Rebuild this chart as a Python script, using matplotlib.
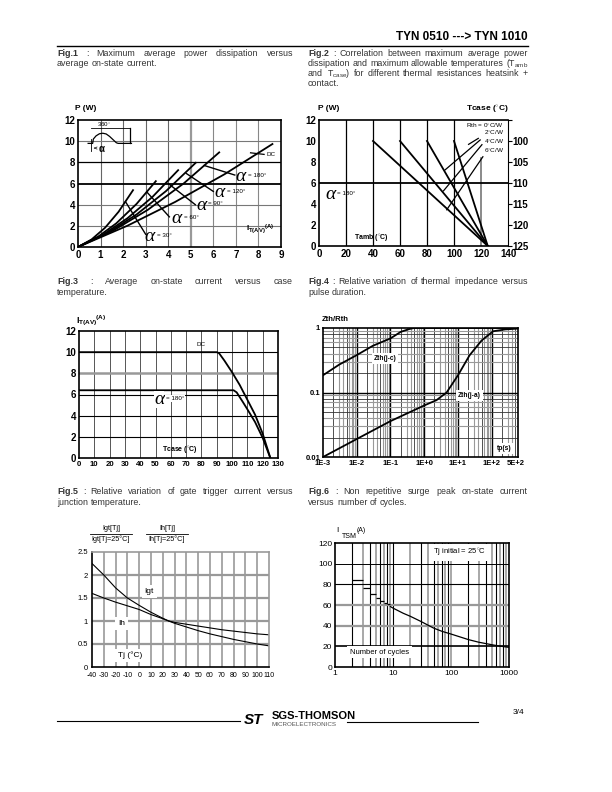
import numpy as np
import matplotlib
matplotlib.use("Agg")
import matplotlib.pyplot as plt
from matplotlib.lines import Line2D

plt.rcParams['font.family'] = ['Liberation Sans', 'DejaVu Sans']
plt.rcParams['mathtext.fontset'] = 'custom'
plt.rcParams['mathtext.rm'] = 'Liberation Sans'
plt.rcParams['mathtext.it'] = 'Liberation Sans:italic'
plt.rcParams['mathtext.bf'] = 'Liberation Sans:bold'
plt.rcParams['axes.unicode_minus'] = False

# ---------------- data ----------------
# Fig.1 : P (W) versus IT(AV) (A) for several conduction angles
f1_names = ["30", "60", "90", "120", "180", "DC"]
f1_i = [[0, 0.6, 1.2, 1.8, 2.44],
        [0, 0.9, 1.7, 2.6, 3.45],
        [0, 1.1, 2.2, 3.3, 4.44],
        [0, 1.3, 2.6, 3.9, 5.22],
        [0, 1.6, 3.1, 4.7, 6.26],
        [0, 2.2, 4.3, 6.5, 8.62]]
f1_p = [[0, 0.71, 1.82, 3.33, 5.37],
        [0, 0.99, 2.24, 4.08, 6.22],
        [0, 1.15, 2.73, 4.73, 7.26],
        [0, 1.32, 3.08, 5.28, 7.96],
        [0, 1.60, 3.52, 6.03, 8.94],
        [0, 2.02, 4.25, 6.88, 9.73]]
# alpha labels (label position, leader start on curve, leader end)
f1_lab_xy = [(3.25, 0.95), (4.45, 2.7), (5.55, 3.95), (6.36, 5.15), (7.3, 6.65)]
f1_lead = [[(2.1, 4.3), (3.0, 1.2)],
           [(3.05, 5.2), (4.05, 2.85)],
           [(4.0, 6.0), (5.2, 4.0)],
           [(4.8, 6.95), (6.0, 5.25)],
           [(5.6, 7.7), (6.95, 6.8)]]
wave_x = [0.45, 0.65, 0.68, 0.8, 0.95, 1.1, 1.25, 1.4, 1.55, 1.7, 1.78, 2.37]
wave_y = [9.79, 9.79, 10.2, 10.5, 10.7, 10.75, 10.68, 10.45, 10.15, 9.85, 9.79, 9.79]

# Fig.2 : P versus Tamb for Rth = 0, 2, 4, 6 C/W (alpha = 180)
f2_tamb0 = [40, 60, 80, 100]
f2_p0 = [10, 10, 10, 10]
f2_tend = 125
f2_rth = ["Rth = 0$^{\\circ}$C/W", "2$^{\\circ}$C/W", "4$^{\\circ}$C/W", "6$^{\\circ}$C/W"]
f2_rth_y = [11.45, 10.8, 9.95, 9.05]
f2_lead = [[(110.8, 9.68), (118.0, 10.25)],
           [(93.4, 7.25), (119.4, 10.1)],
           [(92.2, 5.25), (120.7, 9.65)],
           [(94.6, 3.45), (121.4, 8.5)]]
f2_tcase = [100, 105, 110, 115, 120, 125]

# Fig.3 : IT(AV) versus Tcase
f3_t_dc = [0, 90, 91.5, 95, 100, 105, 110, 115, 120, 125]
f3_i_dc = [10, 10, 9.9, 9.2, 8.1, 6.9, 5.5, 4.1, 2.3, 0]
f3_t_180 = [0, 101, 103, 107, 110, 115, 120, 125]
f3_i_180 = [6.4, 6.4, 6.2, 5.3, 4.6, 3.4, 1.9, 0]

# Fig.4 : Zth/Rth versus tp (s)
f4_tp_jc = [1e-3, 3e-3, 1e-2, 3e-2, 1e-1, 2e-1, 0.35, 0.5, 6e2]
f4_z_jc = [0.185, 0.27, 0.38, 0.53, 0.69, 0.87, 0.96, 1.0, 1.0]
f4_tp_ja = [1e-3, 1e-2, 1e-1, 1, 2.3, 4.6, 10, 22, 50, 110, 250, 600]
f4_z_ja = [0.010, 0.019, 0.036, 0.063, 0.076, 0.10, 0.185, 0.377, 0.64, 0.89, 0.95, 0.98]
f4_xticks = [1e-3, 1e-2, 1e-1, 1, 10, 100, 500]
f4_xlabels = ["1E-3", "1E-2", "1E-1", "1E+0", "1E+1", "1E+2", "5E+2"]

# Fig.5 : relative Igt and Ih versus Tj
f5_tj = [-40, -30, -20, -10, 0, 10, 20, 25, 30, 40, 50, 60, 70, 80, 90, 100, 110]
f5_igt = [2.25, 2.0, 1.72, 1.5, 1.34, 1.19, 1.06, 1.0, 0.95, 0.87, 0.79, 0.72, 0.66, 0.6, 0.55, 0.5, 0.46]
f5_ih = [1.6, 1.5, 1.41, 1.33, 1.25, 1.14, 1.05, 1.0, 0.97, 0.93, 0.89, 0.85, 0.81, 0.78, 0.75, 0.72, 0.70]

# Fig.6 : ITSM versus number of cycles
f6_step_n = [2, 3, 4, 5, 6, 7, 8, 9]
f6_step_i = [84, 76.5, 70.5, 66.8, 64, 62.3, 60.8]
f6_n = [9, 10, 15, 20, 30, 50, 70, 100, 200, 300, 500, 700, 1000]
f6_i = [58.5, 57, 52, 49, 44.2, 37.7, 34.5, 31.9, 26.5, 24, 21.6, 20.2, 19]

# ---------------- page ----------------
W, H = 612, 792
fig = plt.figure(figsize=(6.12, 7.92), dpi=100)
rend = fig.canvas.get_renderer()


def box(x0, y0, x1, y1):
    return fig.add_axes([x0 / W, 1 - y1 / H, (x1 - x0) / W, (y1 - y0) / H])


def ftext(x, y, s, **kw):
    return fig.text(x / W, 1 - y / H, s, **kw)


def hline_px(x0, x1, y, lw=1.0):
    fig.add_artist(Line2D([x0 / W, x1 / W], [1 - y / H, 1 - y / H], lw=lw, color='k'))


def caption(x0, x1, y, lines, size=6.4, dy=10.3):
    for k, line in enumerate(lines):
        words = line.split()
        ts = []
        for j, w in enumerate(words):
            wt = 'bold' if (j == 0 and w.startswith('Fig.')) else 'normal'
            ts.append(ftext(0, 0, w, fontsize=size, fontweight=wt, va='center', color='#333'))
        yy = y + k * dy
        widths = [t.get_window_extent(rend).width for t in ts]
        if k < len(lines) - 1 and len(ts) > 1:
            gap = (x1 - x0 - sum(widths)) / (len(ts) - 1)
        else:
            gap = size * 0.38
        xx = x0
        for t, w in zip(ts, widths):
            t.set_position((xx / W, 1 - yy / H))
            xx += w + gap


def style(ax, size=7, bold=True):
    ax.tick_params(length=0, labelsize=size, pad=2)
    for lb in ax.get_xticklabels() + ax.get_yticklabels():
        lb.set_fontweight('bold' if bold else 'normal')
    for s in ax.spines.values():
        s.set_linewidth(1.2)


def alpha_label(ax, x, y, deg, size=14):
    ax.text(x, y, 'α', fontsize=size, family='Liberation Serif', style='italic', va='center', ha='left')
    ax.annotate(deg + '°', (x, y), xytext=(size * 0.62, 1), textcoords='offset points',
                fontsize=4.5, va='center', ha='left')


# header
ftext(528, 37, "TYN 0510 ---> TYN 1010", fontsize=8.5, fontweight='bold', ha='right', va='center')
hline_px(57, 528, 46, lw=1.0)

caption(57, 293, 53, ["Fig.1 : Maximum average power dissipation versus", "average on-state current."])
caption(308, 528, 53, ["Fig.2 : Correlation between maximum average power",
                       "dissipation and maximum allowable temperatures (T$_{\\mathregular{amb}}$",
                       "and T$_{\\mathregular{case}}$)  for different thermal resistances heatsink +",
                       "contact."])
caption(57, 293, 282, ["Fig.3 : Average on-state current versus case", "temperature."])
caption(308, 528, 282, ["Fig.4 : Relative variation of thermal impedance versus", "pulse duration."])
caption(57, 293, 492, ["Fig.5 : Relative variation of gate trigger current versus", "junction temperature."])
caption(308, 528, 492, ["Fig.6 : Non repetitive surge peak on-state current", "versus number of cycles."])

# ---------------- Fig.1 ----------------
ax = box(78, 120, 281, 247)
ax.set_xlim(0, 9)
ax.set_ylim(0, 12)
for v, c, lw in [(1, '#666', 0.8), (2, '#666', 0.8), (3, '#666', 0.8), (4, '#666', 0.8),
                 (5, '#999', 1.6), (6, '#888', 0.8), (7, '#888', 0.8), (8, '#888', 0.8)]:
    ax.axvline(v, color=c, lw=lw, zorder=0)
for v, c, lw in [(2, '#777', 0.8), (4, '#777', 0.8), (6, 'k', 1.3), (8, 'k', 0.9), (10, '#777', 0.8)]:
    ax.axhline(v, color=c, lw=lw, zorder=0)
for xs, ys in zip(f1_i, f1_p):
    ax.plot(xs, ys, color='k', lw=1.3)
for (lx, ly), lead, name in zip(f1_lab_xy, f1_lead, f1_names[:5]):
    ax.plot([lead[0][0], lead[1][0]], [lead[0][1], lead[1][1]], color='k', lw=1.0)
    alpha_label(ax, lx - 0.3, ly, "= " + name)
ax.plot([7.65, 8.25], [8.9, 8.75], color='k', lw=0.9)
ax.text(8.35, 8.75, "DC", fontsize=4.5, va='center')
ax.plot(wave_x, wave_y, color='k', lw=0.9)
ax.plot([0.59, 2.29], [11.2, 11.2], color='k', lw=0.6)
ax.plot([2.29, 2.29], [9.79, 11.2], color='k', lw=0.9)
ax.plot([0.59, 0.59], [9.05, 10.2], color='k', lw=0.6)
ax.text(1.15, 11.55, "360$^{\\circ}$", fontsize=4.5, ha='center', va='center')
ax.annotate("", xy=(0.59, 9.35), xytext=(0.85, 9.35),
            arrowprops=dict(arrowstyle='->', lw=0.5, mutation_scale=4))
ax.text(0.9, 9.3, "α", fontsize=7, fontweight='bold', va='center')
ax.text(7.45, 1.7, "I$_{\\mathbf{T(AV)}}$$^{\\mathbf{(A)}}$", fontsize=6, fontweight='bold', va='center')
ax.set_xticks(range(10))
ax.set_yticks(range(0, 13, 2))
style(ax)
ftext(75, 109, "P (W)", fontsize=6, fontweight='bold', va='center')

# ---------------- Fig.2 ----------------
ax = box(319, 120, 508, 246)
ax.set_xlim(0, 140)
ax.set_ylim(0, 12)
for v in [20, 40, 60, 80, 100]:
    ax.axvline(v, color='k', lw=0.9, zorder=0)
ax.plot([120, 120], [0, 8.4], color='#777', lw=1.2, zorder=0)
ax.axhline(6, color='k', lw=1.3, zorder=0)
for t0, p0 in zip(f2_tamb0, f2_p0):
    ax.plot([t0, f2_tend], [p0, 0], color='k', lw=1.3)
for lab, y in zip(f2_rth, f2_rth_y):
    ax.text(137, y, lab, fontsize=4.6, ha='right', va='center')
for lead in f2_lead:
    ax.plot([lead[0][0], lead[1][0]], [lead[0][1], lead[1][1]], color='k', lw=0.9)
alpha_label(ax, 4.5, 4.86, "= 180")
ax.text(39, 0.73, "Tamb ($^{\\circ}$C)", fontsize=5, fontweight='bold', ha='center', va='center')
ax.set_xticks(range(0, 141, 20))
ax.set_yticks(range(0, 13, 2))
style(ax)
ax2 = ax.twinx()
ax2.set_ylim(125, 95)
ax2.set_yticks(f2_tcase + [95])
ax2.set_yticklabels([str(v) for v in f2_tcase] + [""])
ax2.tick_params(axis='y', length=3, width=0.8, direction='out', labelsize=7, pad=0.5)
for lb in ax2.get_yticklabels():
    lb.set_fontweight('bold')
for s in ax2.spines.values():
    s.set_visible(False)
ax.spines['right'].set_linewidth(0.8)
ftext(318, 109, "P (W)", fontsize=6, fontweight='bold', va='center')
ftext(509, 109, "Tcase ($^{\\circ}$C)", fontsize=6, fontweight='bold', va='center', ha='right')

# ---------------- Fig.3 ----------------
ax = box(79, 331, 278, 458)
ax.set_xlim(0, 130)
ax.set_ylim(0, 12)
for v in range(10, 130, 10):
    ax.axvline(v, color='#555', lw=0.7, zorder=0)
for v, c, lw in [(2, 'k', 0.8), (4, 'k', 0.8), (6, 'k', 0.8), (8, '#999', 1.8), (10, 'k', 0.8)]:
    ax.axhline(v, color=c, lw=lw, zorder=0)
ax.plot(f3_t_dc, f3_i_dc, color='k', lw=1.3)
ax.plot(f3_t_180, f3_i_180, color='k', lw=1.3)
ax.text(80, 10.75, "DC", fontsize=4.5, ha='center', va='center')
ax.text(49, 5.5, "α", fontsize=14, family='Liberation Serif', style='italic', va='center',
        bbox=dict(facecolor='white', edgecolor='none', pad=0))
ax.annotate("= 180°", (49, 5.5), xytext=(8.5, 1), textcoords='offset points', fontsize=4.5,
            va='center', bbox=dict(facecolor='white', edgecolor='none', pad=0.5))
ax.text(66, 0.75, "Tcase ($^{\\circ}$C)", fontsize=5, fontweight='bold', ha='center', va='center')
ax.set_xticks(range(0, 131, 10))
ax.set_yticks(range(0, 13, 2))
style(ax)
ax.tick_params(axis='x', labelsize=5.6)
ftext(76, 321, "I$_{\\mathbf{T(AV)}}$$^{\\mathbf{(A)}}$", fontsize=6.5, fontweight='bold', va='center')

# ---------------- Fig.4 ----------------
ax = box(323, 328, 518, 457)
ax.set_xscale('log')
ax.set_yscale('log')
ax.set_xlim(1e-3, 6e2)
ax.set_ylim(0.01, 1)
for d in range(-3, 3):
    for m in range(1, 10):
        v = m * 10.0 ** d
        if v <= 1e-3 or v >= 6e2:
            continue
        if m == 1:
            ax.axvline(v, color='k', lw=1.0, zorder=0)
        elif m in (2, 5):
            ax.axvline(v, color='#333', lw=0.6, zorder=0)
        else:
            ax.axvline(v, color='#999', lw=0.8, zorder=0)
for d in range(-2, 0):
    for m in range(1, 10):
        v = m * 10.0 ** d
        if v <= 0.01:
            continue
        if m == 1:
            ax.axhline(v, color='k', lw=1.0, zorder=0)
        elif m in (2, 5, 8):
            ax.axhline(v, color='#333', lw=0.6, zorder=0)
        else:
            ax.axhline(v, color='#999', lw=0.8, zorder=0)
ax.plot(f4_tp_jc, f4_z_jc, color='k', lw=1.3)
ax.plot(f4_tp_ja, f4_z_ja, color='k', lw=1.3)
wbox = dict(facecolor='white', edgecolor='none', pad=1.5)
ax.text(0.069, 0.34, "Zth(j-c)", fontsize=4.8, fontweight='bold', ha='center', va='center', bbox=wbox)
ax.text(22, 0.09, "Zth(j-a)", fontsize=4.8, fontweight='bold', ha='center', va='center', bbox=wbox)
ax.text(240, 0.0135, "tp(s)", fontsize=4.8, fontweight='bold', ha='center', va='center', bbox=wbox)
ax.set_xticks(f4_xticks)
ax.set_xticklabels(f4_xlabels)
ax.set_yticks([0.01, 0.1, 1])
ax.set_yticklabels(["0.01", "0.1", "1"])
ax.minorticks_off()
style(ax, size=5.5)
ftext(322, 320, "Zth/Rth", fontsize=5.5, fontweight='bold', va='center')

# ---------------- Fig.5 ----------------
ax = box(92, 552, 269, 667)
ax.set_xlim(-40, 110)
ax.set_ylim(0, 2.5)
for v in range(-30, 110, 10):
    ax.axvline(v, color='#999', lw=1.2, zorder=0)
for v in [0.5, 1, 1.5, 2]:
    ax.axhline(v, color='#999', lw=1.6, zorder=0)
ax.plot(f5_tj, f5_igt, color='k', lw=0.8)
ax.plot(f5_tj, f5_ih, color='k', lw=0.8)
ax.text(8.5, 1.64, "Igt", fontsize=6, ha='center', va='center', bbox=dict(facecolor='white', edgecolor='none', pad=2))
ax.text(-15, 0.95, "Ih", fontsize=6, ha='center', va='center', bbox=dict(facecolor='white', edgecolor='none', pad=2))
ax.text(-8, 0.25, "Tj (°C)", fontsize=6, ha='center', va='center', bbox=dict(facecolor='white', edgecolor='none', pad=2))
ax.set_xticks(range(-40, 111, 10))
ax.set_yticks([0, 0.5, 1, 1.5, 2, 2.5])
ax.set_yticklabels(["0", "0.5", "1", "1.5", "2", "2.5"])
style(ax, size=5.5, bold=False)
ax.tick_params(axis='x', labelsize=5, pad=3.5)
ax.tick_params(axis='y', pad=3)
ax.spines['top'].set_color('#999')
ax.spines['right'].set_color('#999')
for cx, top, bot in [(111, "Igt[Tj]", "Igt[Tj=25°C]"), (167, "Ih[Tj]", "Ih[Tj=25°C]")]:
    ftext(cx, 529, top, fontsize=5.2, ha='center', va='center')
    hline_px(cx - 21, cx + 21, 534, lw=0.6)
    ftext(cx, 539, bot, fontsize=5.2, ha='center', va='center')

# ---------------- Fig.6 ----------------
ax = box(335, 543, 509, 667)
ax.set_xscale('log')
ax.set_xlim(1, 1000)
ax.set_ylim(0, 120)
k = 0
for d in range(0, 3):
    for m in range(1, 10):
        v = m * 10.0 ** d
        if v <= 1 or v >= 1000:
            continue
        col = 'k' if k % 2 == 0 else '#999'
        ax.axvline(v, color=col, lw=0.8 if col == 'k' else 1.2, zorder=0)
        k += 1
for v, c, lw in [(20, 'k', 1.2), (40, '#999', 1.6), (60, '#999', 1.6), (80, 'k', 0.8), (100, 'k', 0.7)]:
    ax.axhline(v, color=c, lw=lw, zorder=0)
ax.hlines(f6_step_i, f6_step_n[:-1], f6_step_n[1:], color='k', lw=0.9)
ax.plot(f6_n, f6_i, color='k', lw=0.9)
ax.text(140, 111, "Tj initial = 25$^{\\circ}$C", fontsize=5.5, ha='center', va='center',
        bbox=dict(facecolor='white', edgecolor='none', pad=2))
ax.text(5.8, 14.5, "Number of cycles", fontsize=5.5, ha='center', va='center',
        bbox=dict(facecolor='white', edgecolor='none', pad=2))
ax.set_xticks([1, 10, 100, 1000])
ax.set_xticklabels(["1", "10", "100", "1000"])
ax.minorticks_off()
ax.set_yticks(range(0, 121, 20))
style(ax, size=6, bold=False)
ftext(336, 531, "I", fontsize=6, va='center')
ftext(342, 533, "TSM", fontsize=5, va='top')
ftext(357, 530, "(A)", fontsize=5, va='center')

# footer
hline_px(57, 240, 721, lw=0.8)
hline_px(347, 478, 722, lw=0.8)
ftext(244, 720, "ST", fontsize=11, fontweight='bold', style='italic', va='center')
ftext(272, 716, "SGS-THOMSON", fontsize=8, fontweight='bold', va='center')
ftext(272, 725, "MICROELECTRONICS", fontsize=4.5, color='#555', va='center')
ftext(524, 713, "3/4", fontsize=6, ha='right', va='center')

fig.savefig("out.png", dpi=100)
